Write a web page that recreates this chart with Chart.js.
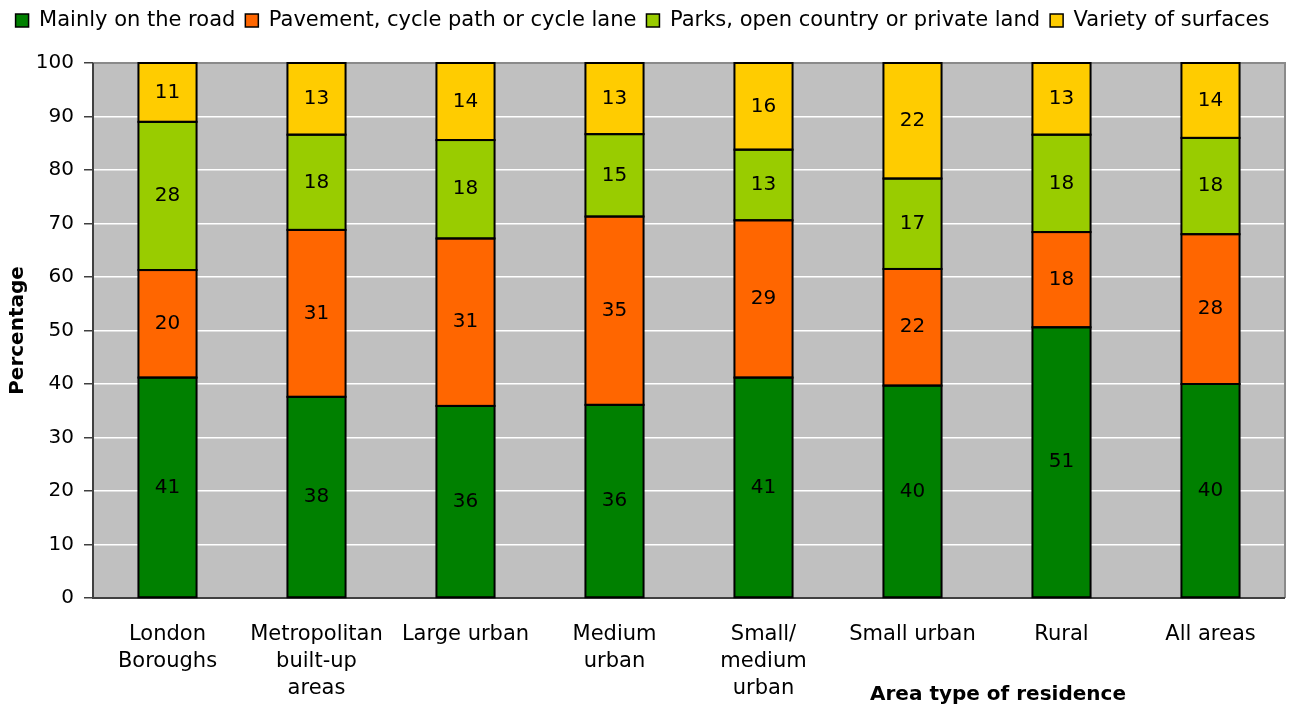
<!DOCTYPE html>
<html>
<head>
<meta charset="utf-8">
<script src="https://cdn.jsdelivr.net/npm/chart.js@4/dist/chart.umd.min.js"></script>
<style>
  html, body { margin: 0; padding: 0; background: #fff; }
  #wrap { width: 1311px; height: 710px; }
</style>
</head>
<body>
<div id="wrap"><canvas id="grafica"></canvas></div>
<script>
// categorias y series
var areas = [
    ['London', 'Boroughs'],
    ['Metropolitan', 'built-up', 'areas'],
    'Large urban',
    ['Medium', 'urban'],
    ['Small/', 'medium', 'urban'],
    'Small urban',
    'Rural',
    'All areas'
];
var road     = [41.2, 37.6, 35.9, 36.1, 41.2, 39.7, 50.6, 40.0];
var pavement = [20.1, 31.2, 31.3, 35.2, 29.4, 21.8, 17.8, 28.0];
var parks    = [27.7, 17.8, 18.4, 15.4, 13.2, 16.9, 18.2, 18.0];
var variety  = [11.0, 13.4, 14.4, 13.3, 16.2, 21.6, 13.4, 14.0];
var yTicks   = [0, 10, 20, 30, 40, 50, 60, 70, 80, 90, 100];

var fuente = "'DejaVu Sans', 'Liberation Sans', sans-serif";

// fondo gris del area de trazado y borde
var fondo = {
    id: 'fondo',
    beforeDraw: function(chart){
        var a = chart.chartArea, c = chart.ctx;
        c.save();
        c.fillStyle = '#c0c0c0';
        c.fillRect(a.left, a.top, a.right - a.left, a.bottom - a.top);
        c.restore();
    },
    beforeDatasetsDraw: function(chart){
        var a = chart.chartArea, c = chart.ctx;
        c.save();
        c.strokeStyle = '#8a8a8a';
        c.lineWidth = 2;
        c.beginPath();
        c.moveTo(a.left, a.top); c.lineTo(a.right, a.top); c.lineTo(a.right, a.bottom);
        c.stroke();
        c.strokeStyle = '#404040';
        c.beginPath();
        c.moveTo(a.left, a.top); c.lineTo(a.left, a.bottom); c.lineTo(a.right, a.bottom);
        c.stroke();
        c.restore();
    }
};

// mas espacio debajo de la leyenda
var margenLeyenda = {
    id: 'margenLeyenda',
    beforeInit: function(chart){
        var fit = chart.legend.fit;
        chart.legend.fit = function(){
            fit.bind(chart.legend)();
            this.height += 22;
        };
    }
};

// contorno negro de cada segmento, etiquetas de valor y titulo del eje x
var etiquetas = {
    id: 'etiquetas',
    afterDatasetsDraw: function(chart){
        var c = chart.ctx;
        c.save();
        c.strokeStyle = '#000';
        c.lineWidth = 2;
        chart.data.datasets.forEach(function(ds, i){
            chart.getDatasetMeta(i).data.forEach(function(bar){
                var top = Math.min(bar.y, bar.base);
                c.strokeRect(bar.x - bar.width / 2, top, bar.width, Math.abs(bar.base - bar.y));
            });
        });
        c.font = '20px ' + fuente;
        c.fillStyle = '#000';
        c.textAlign = 'center';
        c.textBaseline = 'middle';
        chart.data.datasets.forEach(function(ds, i){
            chart.getDatasetMeta(i).data.forEach(function(bar, j){
                var y = (bar.y + bar.base) / 2;
                c.fillText(Math.round(ds.data[j]), bar.x, y);
            });
        });
        var xs = chart.scales.x;
        var tx = (xs.getPixelForValue(5) + xs.getPixelForValue(6)) / 2 + 11;
        c.font = 'bold 20px ' + fuente;
        c.fillText('Area type of residence', tx, 695);
        c.restore();
    }
};

var ctx = document.getElementById('grafica').getContext('2d');
var chart = new Chart(ctx, {
    type: 'bar',
    data: {
        labels: areas,
        datasets: [
            { label: 'Mainly on the road', data: road, backgroundColor: '#008000' },
            { label: 'Pavement, cycle path or cycle lane', data: pavement, backgroundColor: '#ff6600' },
            { label: 'Parks, open country or private land', data: parks, backgroundColor: '#99cc00' },
            { label: 'Variety of surfaces', data: variety, backgroundColor: '#ffcc00' }
        ].map(function(d){
            d.borderWidth = 0;
            d.barPercentage = 0.39;
            d.categoryPercentage = 1;
            return d;
        })
    },
    options: {
        responsive: true,
        maintainAspectRatio: false,
        animation: false,
        layout: { padding: { left: 0, right: 26, top: 0, bottom: 0 } },
        plugins: {
            legend: {
                position: 'top',
                labels: {
                    color: '#000',
                    font: { family: fuente, size: 21 },
                    boxWidth: 13,
                    boxHeight: 13,
                    padding: 10,
                    generateLabels: function(chart){
                        var items = Chart.defaults.plugins.legend.labels.generateLabels(chart);
                        items.forEach(function(it){
                            it.strokeStyle = '#000';
                            it.lineWidth = 1.5;
                        });
                        return items;
                    }
                }
            },
            tooltip: { enabled: false }
        },
        scales: {
            x: {
                stacked: true,
                grid: { display: false, drawTicks: false },
                border: { display: false },
                ticks: {
                    color: '#000',
                    font: { family: fuente, size: 21, lineHeight: 1.29 },
                    maxRotation: 0,
                    autoSkip: false,
                    padding: 23
                },
                afterFit: function(s){ s.height = 112; }
            },
            y: {
                stacked: true,
                min: 0,
                max: 100,
                afterBuildTicks: function(s){
                    s.ticks = yTicks.map(function(v){ return { value: v }; });
                },
                grid: { color: '#ffffff', lineWidth: 1.5, tickColor: '#404040', tickLength: 9 },
                border: { display: false },
                ticks: {
                    color: '#000',
                    font: { family: fuente, size: 20 },
                    padding: 10
                },
                title: {
                    display: true,
                    text: 'Percentage',
                    color: '#000',
                    font: { family: fuente, size: 20, weight: 'bold' },
                    padding: { top: 6, bottom: 0 }
                },
                afterFit: function(s){ s.width = 93; }
            }
        }
    },
    plugins: [fondo, margenLeyenda, etiquetas]
});
</script>
</body>
</html>
